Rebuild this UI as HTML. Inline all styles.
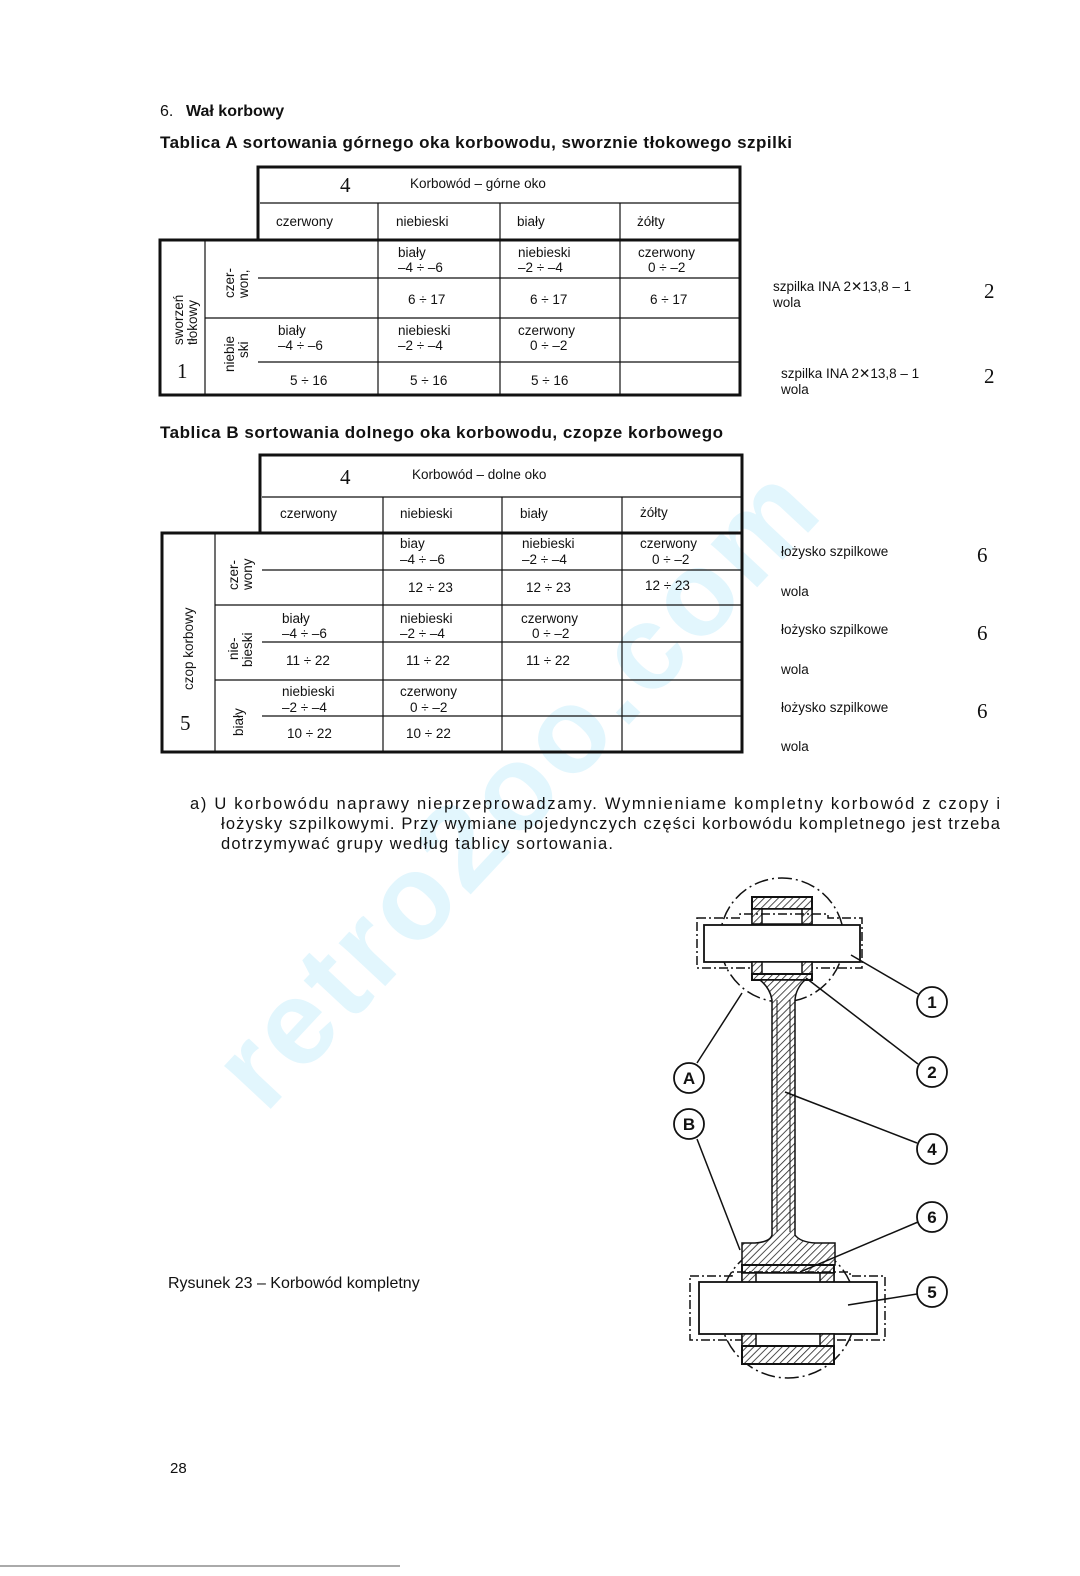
<!DOCTYPE html>
<html><head><meta charset="utf-8"><style>
html,body{margin:0;padding:0;background:#fff;}
svg{display:block;}
text{font-family:"Liberation Sans",sans-serif;fill:#111;}
.s{font-size:13.5px;}
.b{font-weight:bold;}
.n{font-family:"Liberation Serif",serif;font-size:21px;}
</style></head><body>
<svg width="1080" height="1576" viewBox="0 0 1080 1576" xmlns="http://www.w3.org/2000/svg">
<defs>
<pattern id="h" width="5" height="5" patternUnits="userSpaceOnUse" patternTransform="rotate(45)">
<rect width="5" height="5" fill="#fff"/><line x1="0" y1="0" x2="0" y2="5" stroke="#222" stroke-width="1.6"/></pattern>
</defs>
<text x="0" y="0" transform="translate(265,1115) rotate(-47)" style="font-size:120px;font-weight:bold;fill:#e2f6fd" textLength="820">retro2oo.com</text>

<text x="160" y="116" style="font-size:16px">6.</text>
<text x="186" y="116" class="b" style="font-size:16px">Wał korbowy</text>
<text x="160" y="148" class="b" style="font-size:17px" textLength="632">Tablica A sortowania górnego oka korbowodu, sworznie tłokowego szpilki</text>

<g stroke="#111" fill="none">
<path d="M258,240 V167 H740 V395 H160 V240 H740" stroke-width="3"/>
<line x1="260" y1="203" x2="740" y2="203" stroke-width="1.2"/>
<line x1="205" y1="240" x2="205" y2="395" stroke-width="1.2"/>
<line x1="205" y1="318" x2="258" y2="318" stroke-width="1.2"/>
<line x1="378" y1="203" x2="378" y2="395" stroke-width="1.2"/>
<line x1="500" y1="203" x2="500" y2="395" stroke-width="1.2"/>
<line x1="620" y1="203" x2="620" y2="395" stroke-width="1.2"/>
<line x1="258" y1="278" x2="740" y2="278" stroke-width="1.2"/>
<line x1="258" y1="318" x2="740" y2="318" stroke-width="1.2"/>
<line x1="258" y1="362" x2="740" y2="362" stroke-width="1.2"/>
</g>
<text x="340" y="192" class="n">4</text>
<text x="410" y="188" class="s">Korbowód – górne oko</text>
<text x="276" y="226" class="s">czerwony</text>
<text x="396" y="226" class="s">niebieski</text>
<text x="517" y="226" class="s">biały</text>
<text x="637" y="226" class="s">żółty</text>
<text x="398" y="257" class="s">biały</text><text x="398" y="272" class="s">–4 ÷ –6</text>
<text x="518" y="257" class="s">niebieski</text><text x="518" y="272" class="s">–2 ÷ –4</text>
<text x="638" y="257" class="s">czerwony</text><text x="648" y="272" class="s">0 ÷ –2</text>
<text x="408" y="304" class="s">6 ÷ 17</text><text x="530" y="304" class="s">6 ÷ 17</text><text x="650" y="304" class="s">6 ÷ 17</text>
<text x="278" y="335" class="s">biały</text><text x="278" y="350" class="s">–4 ÷ –6</text>
<text x="398" y="335" class="s">niebieski</text><text x="398" y="350" class="s">–2 ÷ –4</text>
<text x="518" y="335" class="s">czerwony</text><text x="530" y="350" class="s">0 ÷ –2</text>
<text x="290" y="385" class="s">5 ÷ 16</text><text x="410" y="385" class="s">5 ÷ 16</text><text x="531" y="385" class="s">5 ÷ 16</text>
<text transform="translate(183,345) rotate(-90)" class="s">sworzeń</text>
<text transform="translate(197,345) rotate(-90)" class="s">tłokowy</text>
<text transform="translate(234,298) rotate(-90)" class="s">czer-</text>
<text transform="translate(248,298) rotate(-90)" class="s">won,</text>
<text transform="translate(234,372) rotate(-90)" class="s">niebie</text>
<text transform="translate(248,358) rotate(-90)" class="s">ski</text>
<text x="177" y="378" class="n">1</text>

<text x="773" y="291" class="s">szpilka  INA  2✕13,8  –  1</text><text x="773" y="307" class="s">wola</text>
<text x="984" y="298" class="n">2</text>
<text x="781" y="378" class="s">szpilka  INA  2✕13,8  –  1</text><text x="781" y="394" class="s">wola</text>
<text x="984" y="383" class="n">2</text>

<text x="160" y="438" class="b" style="font-size:17px" textLength="563">Tablica B sortowania dolnego oka korbowodu, czopze korbowego</text>

<g stroke="#111" fill="none">
<path d="M260,533 V455 H742 V752 H162 V533 H742" stroke-width="3"/>
<line x1="262" y1="497" x2="742" y2="497" stroke-width="1.2"/>
<line x1="215" y1="533" x2="215" y2="752" stroke-width="1.2"/>
<line x1="215" y1="605" x2="262" y2="605" stroke-width="1.2"/>
<line x1="215" y1="680" x2="262" y2="680" stroke-width="1.2"/>
<line x1="383" y1="497" x2="383" y2="752" stroke-width="1.2"/>
<line x1="502" y1="497" x2="502" y2="752" stroke-width="1.2"/>
<line x1="622" y1="497" x2="622" y2="752" stroke-width="1.2"/>
<line x1="262" y1="570" x2="742" y2="570" stroke-width="1.2"/>
<line x1="262" y1="605" x2="742" y2="605" stroke-width="1.2"/>
<line x1="262" y1="642" x2="742" y2="642" stroke-width="1.2"/>
<line x1="262" y1="680" x2="742" y2="680" stroke-width="1.2"/>
<line x1="262" y1="716" x2="742" y2="716" stroke-width="1.2"/>
</g>
<text x="340" y="484" class="n">4</text>
<text x="412" y="479" class="s">Korbowód – dolne oko</text>
<text x="280" y="518" class="s">czerwony</text>
<text x="400" y="518" class="s">niebieski</text>
<text x="520" y="518" class="s">biały</text>
<text x="640" y="517" class="s">żółty</text>
<text x="400" y="548" class="s">biay</text><text x="400" y="564" class="s">–4 ÷ –6</text>
<text x="522" y="548" class="s">niebieski</text><text x="522" y="564" class="s">–2 ÷ –4</text>
<text x="640" y="548" class="s">czerwony</text><text x="652" y="564" class="s">0 ÷ –2</text>
<text x="408" y="592" class="s">12 ÷ 23</text><text x="526" y="592" class="s">12 ÷ 23</text><text x="645" y="590" class="s">12 ÷ 23</text>
<text x="282" y="623" class="s">biały</text><text x="282" y="638" class="s">–4 ÷ –6</text>
<text x="400" y="623" class="s">niebieski</text><text x="400" y="638" class="s">–2 ÷ –4</text>
<text x="521" y="623" class="s">czerwony</text><text x="532" y="638" class="s">0 ÷ –2</text>
<text x="286" y="665" class="s">11 ÷ 22</text><text x="406" y="665" class="s">11 ÷ 22</text><text x="526" y="665" class="s">11 ÷ 22</text>
<text x="282" y="696" class="s">niebieski</text><text x="282" y="712" class="s">–2 ÷ –4</text>
<text x="400" y="696" class="s">czerwony</text><text x="410" y="712" class="s">0 ÷ –2</text>
<text x="287" y="738" class="s">10 ÷ 22</text><text x="406" y="738" class="s">10 ÷ 22</text>
<text transform="translate(193,690) rotate(-90)" class="s">czop  korbowy</text>
<text transform="translate(238,590) rotate(-90)" class="s">czer-</text>
<text transform="translate(252,590) rotate(-90)" class="s">wony</text>
<text transform="translate(238,660) rotate(-90)" class="s">nie-</text>
<text transform="translate(252,667) rotate(-90)" class="s">bieski</text>
<text transform="translate(243,736) rotate(-90)" class="s">biały</text>
<text x="180" y="730" class="n">5</text>

<text x="781" y="556" class="s">łożysko szpilkowe</text><text x="977" y="562" class="n">6</text>
<text x="781" y="596" class="s">wola</text>
<text x="781" y="634" class="s">łożysko szpilkowe</text><text x="977" y="640" class="n">6</text>
<text x="781" y="674" class="s">wola</text>
<text x="781" y="712" class="s">łożysko szpilkowe</text><text x="977" y="718" class="n">6</text>
<text x="781" y="751" class="s">wola</text>

<text x="190" y="809" style="font-size:16.5px" textLength="810">a) U korbowódu naprawy nieprzeprowadzamy. Wymnieniame kompletny korbowód z czopy i</text>
<text x="221" y="829" style="font-size:16.5px" textLength="779">łożysky szpilkowymi. Przy wymiane pojedynczych części korbowódu kompletnego jest trzeba</text>
<text x="221" y="849" style="font-size:16.5px" textLength="392">dotrzymywać grupy według tablicy sortowania.</text>

<g stroke="#111" stroke-width="1.5" fill="none">
<circle cx="782" cy="940" r="62" stroke-dasharray="14,4,2,4"/>
<circle cx="788" cy="1310" r="68" stroke-dasharray="14,4,2,4"/>
<rect x="752" y="897" width="60" height="12" fill="url(#h)" stroke-width="2"/>
<rect x="752" y="909" width="60" height="15" fill="#fff"/>
<rect x="752" y="909" width="10" height="15" fill="url(#h)"/><rect x="802" y="909" width="10" height="15" fill="url(#h)"/>
<path d="M697,918 H740 V914 H828 V918 H862 V968 H697 Z" stroke-dasharray="9,3,2,3"/>
<rect x="704" y="925" width="156" height="37" fill="#fff" stroke-width="1.8"/>
<rect x="752" y="962" width="60" height="12" fill="#fff"/>
<rect x="752" y="962" width="10" height="12" fill="url(#h)"/><rect x="802" y="962" width="10" height="12" fill="url(#h)"/>
<rect x="752" y="974" width="60" height="6" fill="url(#h)" stroke-width="2"/>
<path d="M760,980 H805 Q796,988 795,1000 V1235 Q800,1242 815,1243 H835 V1265 H742 V1243 H755 Q770,1242 772,1235 V1000 Q770,988 760,980 Z" fill="url(#h)"/>
<path d="M777,1000 V1232 M790,1000 V1232" stroke-width="1"/>
<rect x="742" y="1265" width="92" height="8" fill="url(#h)" stroke-width="2"/>
<rect x="742" y="1273" width="92" height="12" fill="#fff"/>
<rect x="742" y="1273" width="14" height="12" fill="url(#h)"/><rect x="820" y="1273" width="14" height="12" fill="url(#h)"/>
<path d="M690,1276 H732 V1272 H850 V1276 H885 V1340 H690 Z" stroke-dasharray="9,3,2,3"/>
<rect x="699" y="1282" width="178" height="52" fill="#fff" stroke-width="1.8"/>
<rect x="742" y="1334" width="92" height="12" fill="#fff"/>
<rect x="742" y="1334" width="14" height="12" fill="url(#h)"/><rect x="820" y="1334" width="14" height="12" fill="url(#h)"/>
<rect x="742" y="1346" width="92" height="18" fill="url(#h)" stroke-width="2"/>
<path d="M851,955 L918,994 M806,978 L918,1064 M785,1092 L917,1143 M800,1272 L918,1222 M848,1305 L917,1294 M742,993 L697,1063 M740,1250 L697,1139"/>
<g fill="#fff" stroke-width="1.8">
<circle cx="932" cy="1002" r="15"/><circle cx="932" cy="1072" r="15"/><circle cx="932" cy="1149" r="15"/>
<circle cx="932" cy="1217" r="15"/><circle cx="932" cy="1292" r="15"/><circle cx="689" cy="1078" r="15"/><circle cx="689" cy="1124" r="15"/>
</g>
</g>
<g style="font-size:17px;font-weight:bold" text-anchor="middle">
<text x="932" y="1008">1</text><text x="932" y="1078">2</text><text x="932" y="1155">4</text>
<text x="932" y="1223">6</text><text x="932" y="1298">5</text><text x="689" y="1084">A</text><text x="689" y="1130">B</text>
</g>

<text x="168" y="1288" style="font-size:16px">Rysunek 23 – Korbowód kompletny</text>
<text x="170" y="1473" style="font-size:15px">28</text>
<line x1="0" y1="1566" x2="400" y2="1566" stroke="#aaa" stroke-width="2"/>
</svg>
</body></html>
